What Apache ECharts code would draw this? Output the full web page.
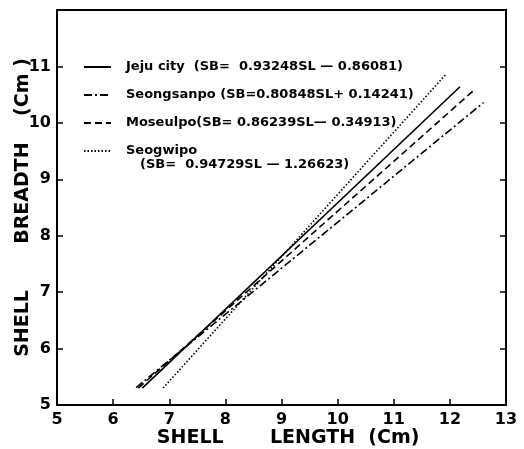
<!DOCTYPE html>
<html><head><meta charset="utf-8">
<script src="https://cdn.jsdelivr.net/npm/echarts@6/dist/echarts.min.js"></script>
<style>html,body{margin:0;padding:0;background:#fff}#c{width:524px;height:449px}</style>
</head><body><div id="c"></div>
<script>
const seriesNames = ['Jeju city', 'Seongsanpo', 'Moseulpo', 'Seogwipo'];
const equations = ['  (SB=  0.93248SL — 0.86081)', ' (SB=0.80848SL+ 0.14241)', '(SB= 0.86239SL— 0.34913)', '(SB=  0.94729SL — 1.26623)'];
const jejuLength = [6.52, 12.18];
const jejuBreadth = [5.30, 10.64];
const seongsanpoLength = [6.41, 12.60];
const seongsanpoBreadth = [5.31, 10.36];
const moseulpoLength = [6.45, 12.43];
const moseulpoBreadth = [5.30, 10.58];
const seogwipoLength = [6.89, 11.93];
const seogwipoBreadth = [5.30, 10.86];
const xTickLabels = ['5','6','7','8','9','10','11','12','13'];
const yTickLabels = ['5','6','7','8','9','10','11',''];

const FONT = 'DejaVu Sans';
function pairs(xs, ys) { return xs.map((x, i) => [x, ys[i]]); }
const styles = [
  { type: 'solid' },
  { type: [8, 3, 2, 3] },
  { type: [7, 4] },
  { type: [1.5, 2] }
];
const dataSets = [
  pairs(jejuLength, jejuBreadth),
  pairs(seongsanpoLength, seongsanpoBreadth),
  pairs(moseulpoLength, moseulpoBreadth),
  pairs(seogwipoLength, seogwipoBreadth)
];

const chart = echarts.init(document.getElementById('c'), null, { renderer: 'canvas' });
const axisLine = { show: true, lineStyle: { color: '#000', width: 2 } };
chart.setOption({
  animation: false,
  backgroundColor: '#fff',
  grid: { left: 57, right: 18, top: 10, bottom: 44, containLabel: false, outerBoundsMode: 'none' },
  legend: {
    orient: 'vertical', left: 83, top: 60, padding: 0,
    itemWidth: 27, itemHeight: 14, itemGap: 14,
    data: seriesNames,
    itemStyle: { opacity: 0 },
    formatter: function (n) { const i = seriesNames.indexOf(n); return i === 3 ? n : n + equations[i]; },
    textStyle: { fontFamily: FONT, fontWeight: 'bold', fontSize: 13, color: '#000', padding: [0, 0, 0, 10], lineHeight: 14 }
  },
  graphic: [{
    type: 'text', left: 140, top: 158,
    style: { text: equations[3], fontFamily: FONT, fontWeight: 'bold', fontSize: 13, fill: '#000' }
  }],
  xAxis: [{
    type: 'value', min: 5, max: 13, interval: 1,
    name: '  SHELL       LENGTH  (Cm)', nameLocation: 'middle', nameGap: 24, nameMoveOverlap: false,
    nameTextStyle: { fontFamily: FONT, fontWeight: 'bold', fontSize: 19, color: '#000' },
    axisLine: axisLine,
    axisTick: { show: true, inside: true, length: 6, lineStyle: { color: '#000', width: 1.5 } },
    axisLabel: { margin: 7, fontFamily: FONT, fontSize: 16, fontWeight: 'bold', color: '#000',
      formatter: v => xTickLabels[Math.round(v - 5)] },
    splitLine: { show: false }
  }, {
    type: 'value', position: 'top', min: 5, max: 13, interval: 1,
    axisLine: axisLine, axisTick: { show: false }, axisLabel: { show: false }, splitLine: { show: false }
  }],
  yAxis: [{
    type: 'value', min: 5, max: 12, interval: 1,
    name: 'SHELL       BREADTH    (Cm )', nameLocation: 'middle', nameGap: 24, nameMoveOverlap: false,
    nameTextStyle: { fontFamily: FONT, fontWeight: 'bold', fontSize: 19, color: '#000' },
    axisLine: axisLine,
    axisTick: { show: true, inside: true, length: 6, lineStyle: { color: '#000', width: 1.5 } },
    axisLabel: { margin: 6, fontFamily: FONT, fontSize: 16, fontWeight: 'bold', color: '#000',
      formatter: v => yTickLabels[Math.round(v - 5)] },
    splitLine: { show: false }
  }, {
    type: 'value', position: 'right', min: 5, max: 12, interval: 1,
    axisLine: axisLine,
    axisTick: { show: true, inside: true, length: 6, lineStyle: { color: '#000', width: 1.5 } },
    axisLabel: { show: false }, splitLine: { show: false }
  }],
  series: seriesNames.map((n, i) => ({
    name: n, type: 'line', data: dataSets[i], symbol: 'none',
    lineStyle: { color: '#000', width: 1.6, type: styles[i].type },
    itemStyle: { color: '#000' }
  }))
});
</script></body></html>
